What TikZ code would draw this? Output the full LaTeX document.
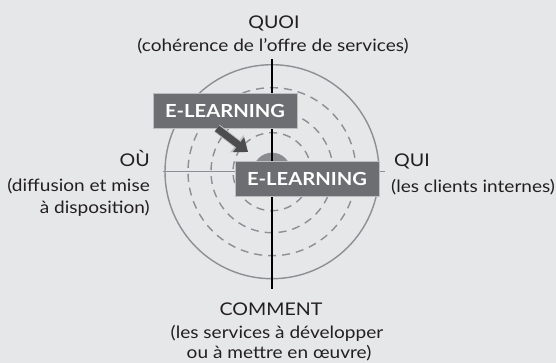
\documentclass[tikz,border=0pt]{standalone}
\usepackage{fontspec}
\setmainfont{Lato}[FakeStretch=1.12]
\usetikzlibrary{arrows.meta}
\definecolor{bggray}{HTML}{E6E7E8}
\definecolor{ringgray}{HTML}{8E8F92}
\definecolor{boxgray}{HTML}{6D6E71}
\definecolor{arrowgray}{HTML}{4D4D4F}
\definecolor{discgray}{HTML}{8A8B8E}
\definecolor{textgray}{HTML}{231F20}

\begin{document}
\begin{tikzpicture}[x=1pt,y=-1pt,
    axislabel/.style={text=textgray, font=\fontsize{17.5}{20}\selectfont, inner sep=0pt},
    axisnote/.style={text=textgray, font=\fontsize{17}{20}\selectfont, inner sep=0pt},
    elbox/.style={fill=boxgray, draw=white!55!boxgray, line width=0.8pt, text=white,
      font=\bfseries\fontsize{18}{18}\selectfont, minimum width=144pt, minimum height=35pt, inner sep=0pt},
    ring/.style={draw=ringgray, line width=1.4pt},
    dashring/.style={ring, dash pattern=on 8pt off 6pt},
    bigarrow/.style={draw=arrowgray, line width=7pt, -{Triangle[width=18pt,length=12pt]},
      preaction={draw=white!65!arrowgray, line width=9pt, -{Triangle[width=21pt,length=14pt]}}}]
  \fill[bggray] (0,0) rectangle (556,363);
  \useasboundingbox (0,0) rectangle (556,363);
  \coordinate (c) at (272,171.7);
  % rings
  \fill[discgray] (c) circle (19pt);
  \draw[ring] (c) circle (107pt);
  \foreach \r in {39,61,84}
    \draw[dashring] (c) circle (\r pt);
  % axes
  \coordinate (axtop) at (272,59);
  \coordinate (axbot) at (272,289);
  \coordinate (axleft) at (163,171.7);
  \coordinate (axright) at (385,171.7);
  \draw[draw=ringgray, line width=0.9pt] (axleft) -- (axright);
  \draw[black, line width=1.4pt] (axtop) -- (axbot);
  % e-learning
  \node[elbox] (el1) at (225,110.5) {E-LEARNING};
  \coordinate (tip) at (248,152);
  \draw[bigarrow] ([xshift=-8pt]el1.south) -- (tip);
  \node[elbox] (el2) at (307,178.5) {E-LEARNING};
  % labels
  \node[axislabel, anchor=base] (quoi) at (274,29) {QUOI};
  \node[axisnote, anchor=base] (quoi1) at (273,52) {(cohérence de l'offre de services)};
  \node[axislabel, anchor=base east] (ou) at (150,167) {OÙ};
  \node[axisnote, anchor=base east] (ou1) at (150,192) {(diffusion et mise};
  \node[axisnote, anchor=base east] (ou2) at (150,214) {à disposition)};
  \node[axislabel, anchor=base west] (qui) at (394,167) {QUI};
  \node[axisnote, anchor=base west] (qui1) at (391,193) {(les clients internes)};
  \node[axislabel, anchor=base] (comment) at (271,315) {COMMENT};
  \node[axisnote, anchor=base] (comment1) at (277,338) {(les services à développer};
  \node[axisnote, anchor=base] (comment2) at (279,358) {ou à mettre en œuvre)};
\end{tikzpicture}
\end{document}
